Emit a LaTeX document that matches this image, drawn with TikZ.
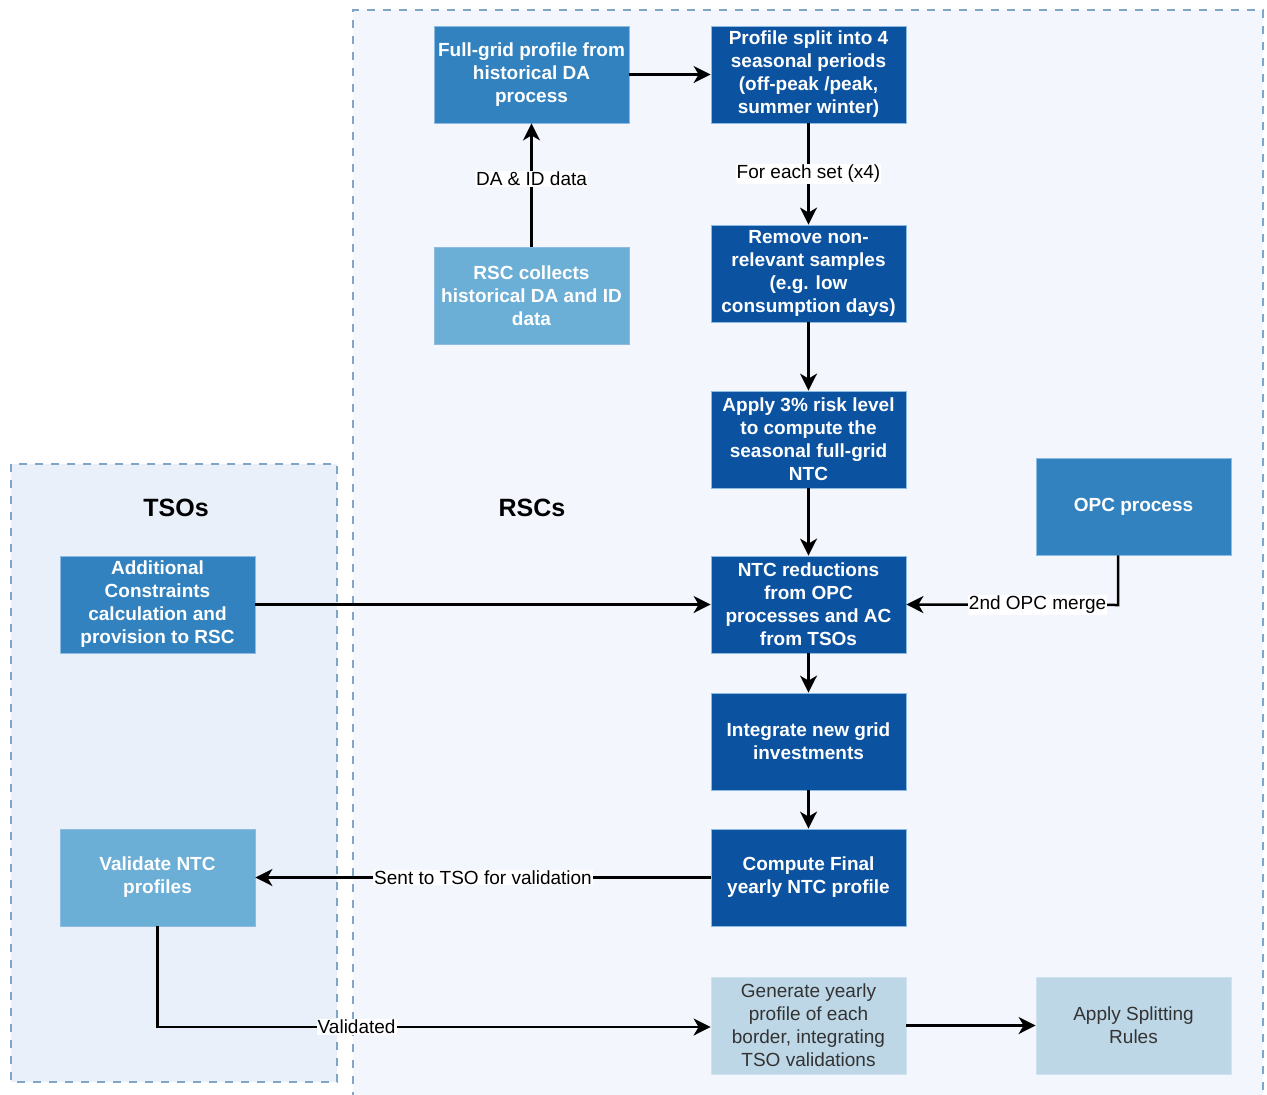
\documentclass[tikz,border=0pt]{standalone}
\usepackage{fontspec}
\setmainfont{Liberation Sans}
\usetikzlibrary{arrows.meta}
\definecolor{rscbg}{HTML}{F3F6FD}
\definecolor{tsobg}{HTML}{E9F0FA}
\definecolor{dashc}{HTML}{7EA6C9}
\definecolor{dblue}{HTML}{0B52A0}
\definecolor{mblue}{HTML}{3282BF}
\definecolor{lblue}{HTML}{6BAED6}
\definecolor{pblue}{HTML}{BDD7E7}
\definecolor{bordc}{HTML}{8DBBE3}
\definecolor{pbord}{HTML}{CFE2F0}
\tikzset{
  box/.style={draw=bordc, line width=0.8pt, minimum width=195pt, minimum height=97pt,
    align=center, inner sep=0pt, font=\fontsize{19}{23}\selectfont\bfseries, text=white},
  darkbox/.style={box, fill=dblue},
  midbox/.style={box, fill=mblue},
  lightbox/.style={box, fill=lblue},
  palebox/.style={box, draw=pbord, fill=pblue, text=black!80, font=\fontsize{19}{23}\selectfont},
  conn/.style={line width=2.5pt, -{Stealth[length=17pt,width=17pt,inset=5pt]}},
  elabel/.style={fill=white, inner sep=1pt, font=\fontsize{19}{22}\selectfont, text=black},
  region/.style={draw=dashc, line width=2pt, dash pattern=on 8pt off 8pt},
  title/.style={font=\fontsize{25}{29}\selectfont\bfseries}
}
\begin{document}
\begin{tikzpicture}[x=1pt,y=-1pt]
\useasboundingbox (0,0) rectangle (1267,1095);
\fill[white] (0,0) rectangle (1267,1095);
% regions
\path[region, fill=rscbg] (353,1100) -- (353,10) -- (1263,10) -- (1263,1100);
\path[region, fill=tsobg] (11,464) rectangle (337,1082);
\node[title] (tsos) at (176,508) {TSOs};
\node[title] (rscs) at (532,508) {RSCs};
% boxes
\node[midbox] (full) at (531.5,74.5) {Full-grid profile from\\historical DA\\process};
\node[darkbox] (split) at (808.5,74.5) {Profile split into 4\\seasonal periods\\(off-peak /peak,\\summer winter)};
\node[lightbox] (collect) at (531.5,295.5) {RSC collects\\historical DA and ID\\data};
\node[darkbox] (remove) at (808.5,273.5) {Remove non-\\relevant samples\\(e.g. low\\consumption days)};
\node[darkbox] (apply) at (808.5,439.5) {Apply 3\% risk level\\to compute the\\seasonal full-grid\\NTC};
\node[midbox] (opc) at (1133.5,506.5) {OPC process};
\node[darkbox] (ntc) at (808.5,604.5) {NTC reductions\\from OPC\\processes and AC\\from TSOs};
\node[darkbox] (integ) at (808.5,741.5) {Integrate new grid\\investments};
\node[darkbox] (final) at (808.5,877.5) {Compute Final\\yearly NTC profile};
\node[palebox] (gen) at (808.5,1025.5) {Generate yearly\\profile of each\\border, integrating\\TSO validations};
\node[palebox] (split2) at (1133.5,1025.5) {Apply Splitting\\Rules};
\node[midbox] (addc) at (157.5,604.5) {Additional\\Constraints\\calculation and\\provision to RSC};
\node[lightbox] (valid) at (157.5,877.5) {Validate NTC\\profiles};
% connectors
\draw[conn] (full) -- (split);
\draw[conn] (collect) -- node[elabel, pos=0.55] (l1) {DA \& ID data} (full);
\draw[conn] (split) -- node[elabel, pos=0.5] (l2) {For each set (x4)} (remove);
\draw[conn] (remove) -- (apply);
\draw[conn] (apply) -- (ntc);
\draw[conn] (ntc) -- (integ);
\draw[conn] (integ) -- (final);
\draw[conn] (addc) -- (ntc);
\coordinate (opcturn) at (1118,605);
\draw[conn] (opc.south -| opcturn) -- (opcturn) -- node[elabel, pos=0.38] (l3) {2nd OPC merge} (ntc.east);
\draw[conn] (final) -- node[elabel, pos=0.5] (l4) {Sent to TSO for validation} (valid);
\coordinate (valturn) at (157.5,1027);
\draw[conn] (valid) -- (valturn) -- node[elabel, pos=0.36] (l5) {Validated} (gen.west |- valturn);
\draw[conn] (gen) -- (split2);
\end{tikzpicture}
\end{document}
